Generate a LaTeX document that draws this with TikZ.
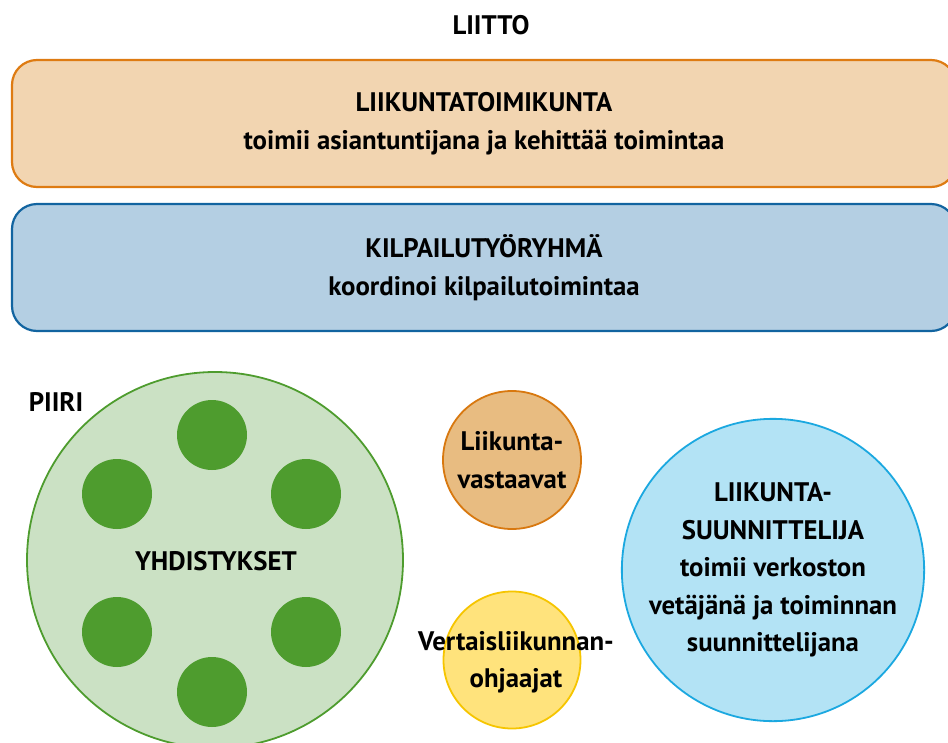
\documentclass[tikz,border=0pt]{standalone}
\usepackage{fontspec}
\setmainfont{PT Sans}
\definecolor{obfill}{HTML}{F2D5B1}
\definecolor{obdraw}{HTML}{DE7B12}
\definecolor{bbfill}{HTML}{B4CFE3}
\definecolor{bbdraw}{HTML}{1264A0}
\definecolor{gfill}{HTML}{CBE1C4}
\definecolor{gdraw}{HTML}{4E9C2E}
\definecolor{ocfill}{HTML}{E8BC81}
\definecolor{ocdraw}{HTML}{D8780F}
\definecolor{ycfill}{HTML}{FFE37C}
\definecolor{ycdraw}{HTML}{F6C500}
\definecolor{lbfill}{HTML}{B3E3F5}
\definecolor{lbdraw}{HTML}{1BA8E0}
\begin{document}
\begin{tikzpicture}[x=1pt,y=-1pt,
  every node/.style={font=\bfseries\fontsize{26.8}{37.5}\selectfont, text=black, align=center, inner sep=0pt},
  bigbox/.style={rounded corners=25pt, line width=2.2pt, minimum width=944pt, minimum height=127pt},
  ring/.style={circle, line width=1.8pt},
  dot/.style={circle, fill=gdraw, minimum size=70pt}]
\useasboundingbox (0,0) rectangle (948,742);
\clip (0,0) rectangle (948,742);
\node (liitto) at (491,25) {LIITTO};
\node[bigbox, fill=obfill, draw=obdraw] (toimikunta) at (484,123.5) {LIIKUNTATOIMIKUNTA\\toimii asiantuntijana ja kehittää toimintaa};
\node[bigbox, fill=bbfill, draw=bbdraw] (ryhma) at (484,267.5) {KILPAILUTYÖRYHMÄ\\koordinoi kilpailutoimintaa};
\node (piiri) at (56,402) {PIIRI};
\node[ring, fill=gfill, draw=gdraw, minimum size=376pt] (piirc) at (215,560) {};
\node[dot] (d1) at (212,435) {};
\node[dot] (d2) at (117,494) {};
\node[dot] (d3) at (306,494) {};
\node[dot] (d4) at (117,632) {};
\node[dot] (d5) at (306,632) {};
\node[dot] (d6) at (212,692) {};
\node (yhd) at (216,561) {YHDISTYKSET};
\node[ring, fill=ocfill, draw=ocdraw, minimum size=138pt] (lv) at (512,460) {Liikunta-\\vastaavat};
\node[ring, fill=ycfill, draw=ycdraw, minimum size=137pt] (vo) at (512,660) {};
\node (votext) at (516,662) {Vertaisliikunnan-\\ohjaajat};
\node[ring, fill=lbfill, draw=lbdraw, minimum size=301pt] (ls) at (773,570) {LIIKUNTA-\\SUUNNITTELIJA\\toimii verkoston\\vetäjänä ja toiminnan\\suunnittelijana};
\end{tikzpicture}
\end{document}
